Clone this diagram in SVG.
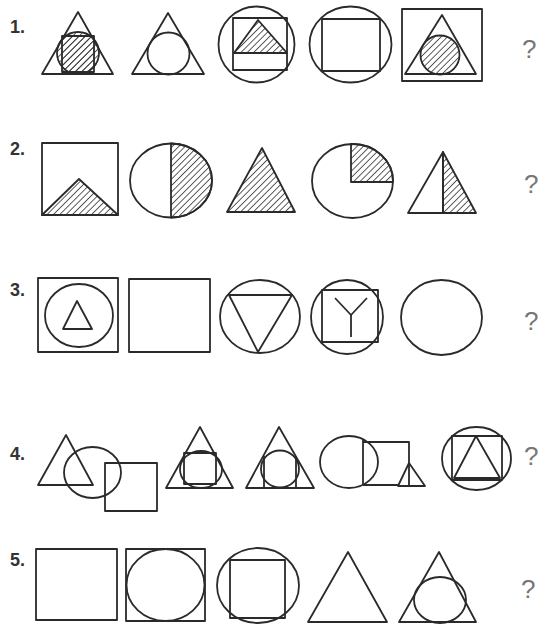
<svg xmlns="http://www.w3.org/2000/svg" width="544" height="628" viewBox="0 0 544 628">
<defs>
<pattern id="hatch" patternUnits="userSpaceOnUse" width="4.5" height="4.5" patternTransform="rotate(45)">
<line x1="0" y1="0" x2="0" y2="4.5" stroke="#333" stroke-width="1.6"/>
</pattern>
<style>
.s{fill:none;stroke:#2a2a2a;stroke-width:1.8;stroke-linejoin:round}
.h{fill:url(#hatch);stroke:#2a2a2a;stroke-width:1.8;stroke-linejoin:round}
.num{font-family:"Liberation Sans",Arial,sans-serif;font-weight:bold;font-size:18px;fill:#333}
.q{font-family:"Liberation Sans",Arial,sans-serif;font-size:26px;fill:#777}
</style>
</defs>
<rect width="544" height="628" fill="#fff"/>

<!-- Row 1 -->
<g id="row1">
<text class="num" x="10" y="33">1.</text>
<g id="r1f1">
<circle class="h" cx="78" cy="53" r="21"/>
<rect class="h" x="62" y="36" width="32" height="36"/>
<polygon class="s" points="78,12 42,74 113,74"/>
</g>
<g id="r1f2">
<polygon class="s" points="168,13 132,74 204,74"/>
<circle class="s" cx="168.5" cy="53.5" r="21"/>
</g>
<g id="r1f3">
<circle class="s" cx="256.5" cy="44.5" r="38"/>
<rect class="s" x="233" y="18" width="54" height="52"/>
<polygon class="h" points="258,20 234,53 287,53"/>
</g>
<g id="r1f4">
<ellipse class="s" cx="350.5" cy="44.5" rx="41" ry="38"/>
<rect class="s" x="322" y="19" width="58" height="52"/>
</g>
<g id="r1f5">
<rect class="s" x="402" y="9" width="80" height="72"/>
<polygon class="s" points="442,15 405,74 476,74"/>
<circle class="h" cx="440" cy="55" r="19.5"/>
</g>
<text class="q" x="522" y="58">?</text>
</g>

<!-- Row 2 -->
<g id="row2">
<text class="num" x="10" y="155">2.</text>
<g id="r2f1">
<rect class="s" x="42" y="143" width="76" height="72"/>
<polygon class="h" points="79,179 42,215 118,215"/>
</g>
<g id="r2f2">
<path class="h" d="M171,143.5 A41,37 0 0 1 171,217.5 Z"/>
<ellipse class="s" cx="171" cy="180.5" rx="41" ry="37"/>
</g>
<g id="r2f3">
<polygon class="h" points="262,148 227,212 295,212"/>
</g>
<g id="r2f4">
<ellipse class="s" cx="352.5" cy="181" rx="40.5" ry="37"/>
<path class="h" d="M351,182 L351,144 A40.5,37 0 0 1 393,182 Z"/>
</g>
<g id="r2f5">
<polygon class="s" points="443,152 408,213 443,213"/>
<polygon class="h" points="443,152 443,213 476,213"/>
</g>
<text class="q" x="524" y="193">?</text>
</g>

<!-- Row 3 -->
<g id="row3">
<text class="num" x="10" y="296">3.</text>
<g id="r3f1">
<rect class="s" x="38" y="278" width="80" height="74"/>
<ellipse class="s" cx="79" cy="315.5" rx="34" ry="31.5"/>
<polygon class="s" points="77,301 63,329 92,329"/>
</g>
<g id="r3f2">
<rect class="s" x="129" y="279" width="81" height="73"/>
</g>
<g id="r3f3">
<ellipse class="s" cx="260" cy="316.5" rx="40" ry="36.5"/>
<polygon class="s" points="229,295 292,295 258,352"/>
</g>
<g id="r3f4">
<ellipse class="s" cx="347" cy="317" rx="36" ry="37"/>
<rect class="s" x="322" y="290" width="56" height="52"/>
<polyline class="s" points="335,298 351,315 367,298"/>
<line class="s" x1="351" y1="315" x2="351" y2="337"/>
</g>
<g id="r3f5">
<ellipse class="s" cx="441.5" cy="317.5" rx="40.5" ry="37.5"/>
</g>
<text class="q" x="524" y="330">?</text>
</g>

<!-- Row 4 -->
<g id="row4">
<text class="num" x="10" y="460">4.</text>
<g id="r4f1">
<polygon class="s" points="66,435 38,485 93,485"/>
<ellipse class="s" cx="92.5" cy="472.5" rx="28.5" ry="25.5"/>
<rect class="s" x="105" y="463" width="52" height="48"/>
</g>
<g id="r4f2">
<polygon class="s" points="200,427 166,488 233,488"/>
<ellipse class="s" cx="201" cy="469.5" rx="21" ry="18.5"/>
<rect class="s" x="184" y="453" width="32" height="31"/>
</g>
<g id="r4f3">
<polygon class="s" points="279,427 246,488 314,488"/>
<ellipse class="s" cx="280" cy="469" rx="19" ry="18.5"/>
<line class="s" x1="264" y1="456" x2="264" y2="488"/>
<line class="s" x1="296" y1="456" x2="296" y2="488"/>
</g>
<g id="r4f4">
<ellipse class="s" cx="349" cy="462" rx="29" ry="26"/>
<line class="s" x1="363" y1="439" x2="363" y2="485"/>
<polyline class="s" points="363,442 409,442 409,486"/>
<line class="s" x1="363" y1="485" x2="398" y2="485"/>
<polygon class="s" points="409,463 398,486 425,486"/>
</g>
<g id="r4f5">
<ellipse class="s" cx="476.5" cy="458.5" rx="34.5" ry="31.5"/>
<rect class="s" x="452" y="436" width="50" height="44"/>
<polygon class="s" points="476,436 454,478 500,478"/>
</g>
<text class="q" x="524" y="465">?</text>
</g>

<!-- Row 5 -->
<g id="row5">
<text class="num" x="10" y="566">5.</text>
<g id="r5f1">
<rect class="s" x="36" y="549" width="81" height="71"/>
</g>
<g id="r5f2">
<rect class="s" x="126" y="549" width="79" height="72"/>
<ellipse class="s" cx="165.5" cy="585" rx="39" ry="36"/>
</g>
<g id="r5f3">
<ellipse class="s" cx="258" cy="585.5" rx="41" ry="37.5"/>
<rect class="s" x="230" y="560" width="55" height="58"/>
</g>
<g id="r5f4">
<polygon class="s" points="348,552 308,622 387,622"/>
</g>
<g id="r5f5">
<polygon class="s" points="439,552 399,622 476,622"/>
<ellipse class="s" cx="440" cy="600" rx="26" ry="23"/>
</g>
<text class="q" x="521" y="598">?</text>
</g>
</svg>
